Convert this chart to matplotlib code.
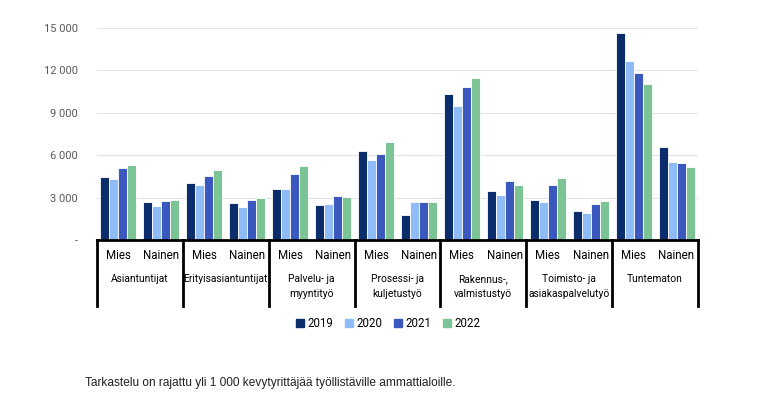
import matplotlib.pyplot as plt
import numpy as np
from matplotlib.patches import Patch

groups = ['Asiantuntijat', 'Erityisasiantuntijat', 'Palvelu- ja\nmyyntityö', 'Prosessi- ja\nkuljetustyö',
          'Rakennus-,\nvalmistustyö', 'Toimisto- ja\nasiakaspalvelutyö', 'Tuntematon']
sexes = ['Mies', 'Nainen']
years = ['2019', '2020', '2021', '2022']
colors = ['#0b2d6b', '#8fbcf7', '#3a58bd', '#7cc495']

# values per subgroup (Mies, Nainen for each group), one list per year
v2019 = [4450, 2670, 4000, 2650, 3620, 2480, 6310, 1770, 10330, 3500, 2820, 2060, 14640, 6550]
v2020 = [4330, 2390, 3860, 2300, 3620, 2550, 5670, 2670, 9480, 3170, 2700, 1940, 12670, 5490]
v2021 = [5090, 2790, 4520, 2820, 4680, 3100, 6080, 2670, 10830, 4180, 3900, 2550, 11820, 5420]
v2022 = [5320, 2860, 4940, 2960, 5230, 3050, 6950, 2670, 11490, 3860, 4360, 2750, 11020, 5160]
series = [v2019, v2020, v2021, v2022]

yticks = [0, 3000, 6000, 9000, 12000, 15000]
yticklabels = ['-', '3 000', '6 000', '9 000', '12 000', '15 000']
footnote = 'Tarkastelu on rajattu yli 1 000 kevytyrittäjää työllistäville ammattialoille.'

narrow = dict(family=['Roboto', 'DejaVu Sans'])

fig = plt.figure(figsize=(7.76, 4.09), dpi=100)
ax = fig.add_axes([97 / 776, 1 - 240 / 409, 601 / 776, 212 / 409])

x = np.arange(len(v2019))
step = 0.21
for i, (vals, c) in enumerate(zip(series, colors)):
    ax.bar(x + (i - 1.5) * step, vals, width=step, color=c, edgecolor='white', linewidth=0.6,
           label=years[i], zorder=2)

ax.set_xlim(-0.5, len(x) - 0.5)
ax.set_ylim(0, 15000)
ax.set_yticks(yticks)
ax.set_yticklabels(yticklabels, fontsize=8, color='#595959', **narrow)
ax.tick_params(axis='y', length=0, pad=14)
ax.set_xticks([])
ax.grid(axis='y', color='#e3e3e3', linewidth=0.8, zorder=0)
for s in ax.spines.values():
    s.set_visible(False)

# category table under the axis
tr = ax.get_xaxis_transform()
ax.plot([-0.5, len(x) - 0.5], [0, 0], color='black', lw=2, transform=tr, clip_on=False, zorder=3)
for g in range(len(groups) + 1):
    ax.plot([g * 2 - 0.5] * 2, [0, -0.31], color='black', lw=2, transform=tr, clip_on=False)
for k in x:
    ax.text(k, -0.075, sexes[k % 2], transform=tr, ha='center', va='center', fontsize=8.3, **narrow)
for g, name in enumerate(groups):
    ax.text(g * 2 + 0.5, -0.16, name, transform=tr, ha='center', va='top',
            fontsize=7.4, linespacing=1.6, **narrow)

handles = [Patch(color=c, label=y) for c, y in zip(colors, years)]
ax.legend(handles=handles, loc='center', bbox_to_anchor=(0.484, -0.395), ncol=4, frameon=False,
          handlelength=0.7, handleheight=0.7, handletextpad=0.3, columnspacing=1.0,
          prop=dict(size=8.3, **narrow))

fig.text(85 / 776, 1 - 383 / 409, footnote, family='Liberation Sans', fontsize=8.6, va='center', color='#222222')

fig.savefig('out.png', dpi=100)
